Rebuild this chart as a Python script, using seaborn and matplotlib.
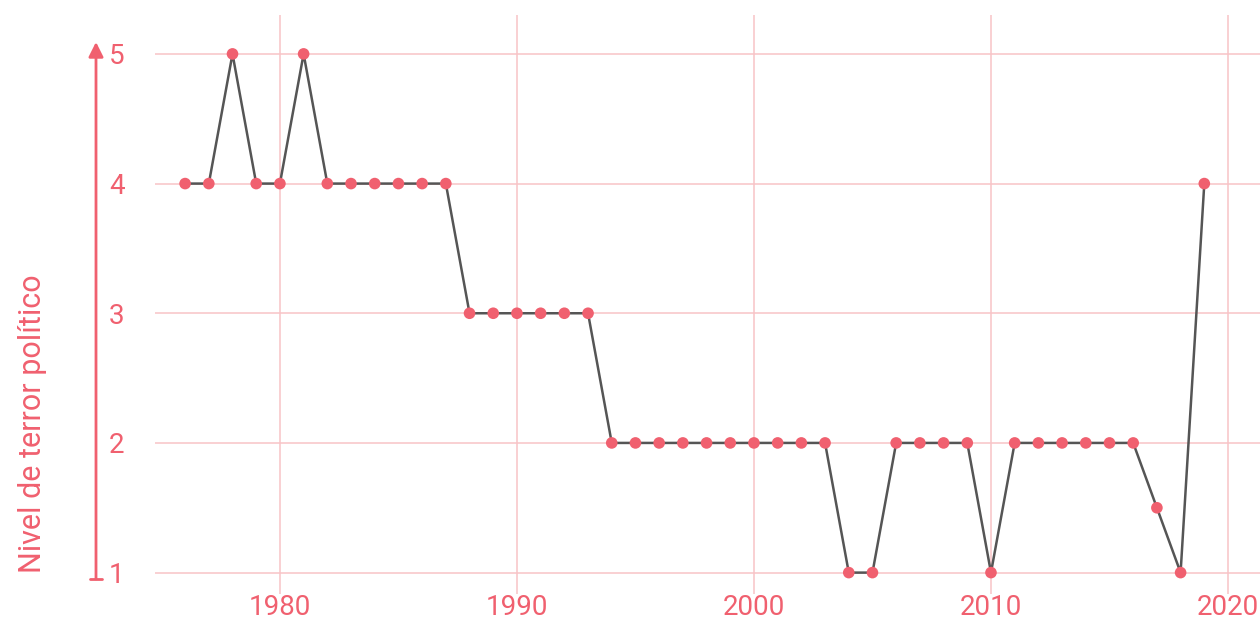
import numpy as np
import pandas as pd
import seaborn as sns
import matplotlib.pyplot as plt
from matplotlib.lines import Line2D

years = list(range(1976, 2020))
levels = [4, 4, 5, 4, 4, 5, 4, 4, 4, 4, 4, 4,
          3, 3, 3, 3, 3, 3,
          2, 2, 2, 2, 2, 2, 2, 2, 2, 2,
          1, 1, 2, 2, 2, 2, 1,
          2, 2, 2, 2, 2, 2, 1.5, 1, 4]
x_ticks = [1980, 1990, 2000, 2010, 2020]
y_ticks = [1, 2, 3, 4, 5]
y_label = 'Nivel de terror político'

df = pd.DataFrame({'year': years, 'level': levels})

red = '#f0606f'
grid_col = '#f8c3c6'
line_col = '#555555'

sns.set_style('white')
plt.rcParams['font.family'] = ['Roboto', 'DejaVu Sans']

fig = plt.figure(figsize=(12.6, 6.28), dpi=100)
ax = fig.add_axes([155 / 1260, 34 / 628, 1 - 155 / 1260, 579 / 628])

sns.lineplot(data=df, x='year', y='level', color=line_col, linewidth=1.8, ax=ax, zorder=2)
sns.scatterplot(data=df, x='year', y='level', color=red, s=70, edgecolor='none', ax=ax, zorder=3)

ax.set_xlim(1974.73, 2021.35)
ax.set_ylim(0.835, 5.30)
ax.set_xticks(x_ticks)
ax.set_yticks(y_ticks)
ax.grid(True, color=grid_col, linewidth=1.1, zorder=0)
ax.set_axisbelow(True)
for sp in ax.spines.values():
    sp.set_visible(False)
ax.tick_params(axis='both', length=0, labelsize=20, labelcolor=red)
ax.tick_params(axis='y', pad=22)
ax.tick_params(axis='x', pad=0)
ax.set_xlabel('')
ax.set_ylabel('')

#Arrow on the left for the y axis
x_arr = 96 / 1260
y0 = 1 - 579 / 628
y1 = 1 - 42 / 628
ax.annotate('', xy=(x_arr, y1), xytext=(x_arr, y0), xycoords='figure fraction',
            textcoords='figure fraction',
            arrowprops=dict(arrowstyle='-|>', color=red, lw=2, mutation_scale=22,
                            shrinkA=0, shrinkB=0))
fig.lines.append(Line2D([90 / 1260, 102 / 1260], [y0, y0], transform=fig.transFigure,
                        color=red, lw=2))
fig.text(33 / 1260, 1 - 424 / 628, y_label, rotation=90, ha='center', va='center',
         color=red, fontsize=22)

plt.savefig('out.png', dpi=100)
